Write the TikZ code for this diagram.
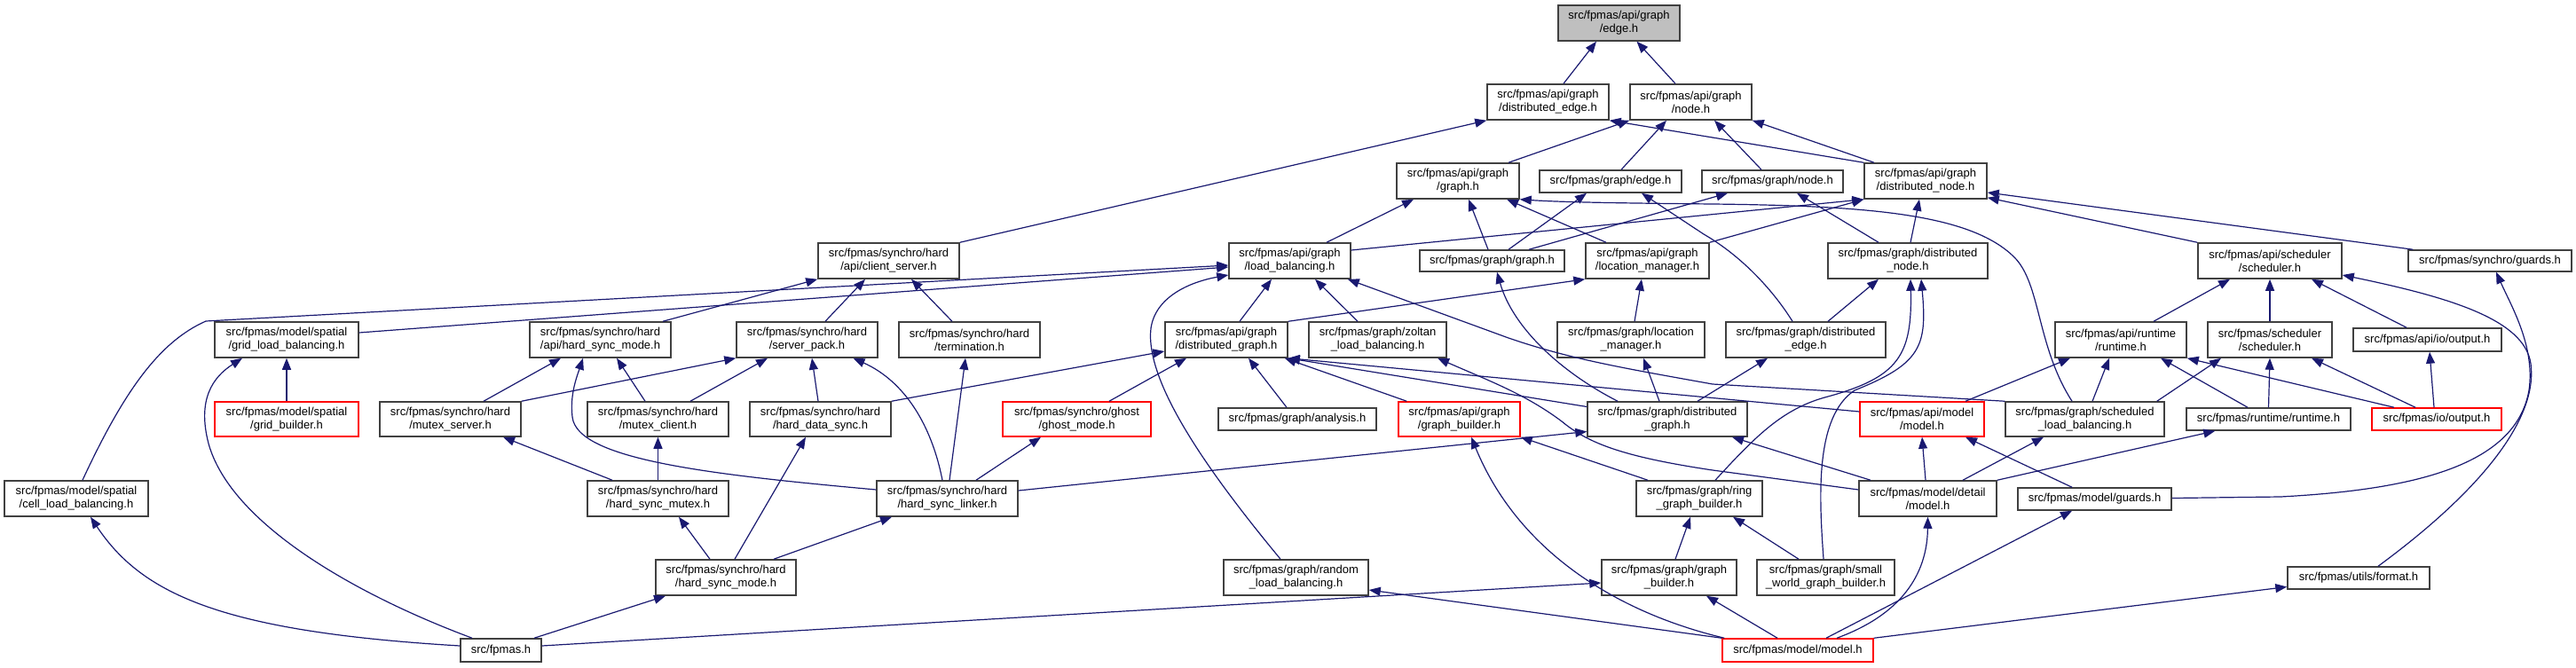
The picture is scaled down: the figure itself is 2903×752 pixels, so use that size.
\documentclass[tikz,border=0pt]{standalone}
\usepackage{fontspec}
\setmainfont{Liberation Sans}
\usetikzlibrary{arrows.meta}
\definecolor{edgecol}{HTML}{191970}
\definecolor{boxcol}{HTML}{404040}
\definecolor{redcol}{HTML}{FF0000}
\definecolor{rootfill}{HTML}{BFBFBF}
\tikzset{
  hbox/.style={draw=boxcol, fill=white, line width=1.5pt, inner sep=0pt, align=center,
    font=\fontsize{13}{15}\selectfont},
  redbox/.style={hbox, draw=redcol},
  rootbox/.style={hbox, fill=rootfill},
  dep/.style={draw=edgecol, line width=1.2pt, -{Triangle[length=13pt,width=10pt]}},
}
\begin{document}
\begin{tikzpicture}[x=1pt,y=-1pt]
\useasboundingbox (0,0) rectangle (2903,752);
% row 0
\node[rootbox, minimum width=137pt, minimum height=40pt] (edgeh) at (1824.5,26) {src/fpmas/api/graph\\/edge.h};
% row 1
\node[hbox, minimum width=137pt, minimum height=40pt] (dedge) at (1744.5,115) {src/fpmas/api/graph\\/distributed\_edge.h};
\node[hbox, minimum width=137pt, minimum height=40pt] (anode) at (1905.5,115) {src/fpmas/api/graph\\/node.h};
% row 2
\node[hbox, minimum width=138pt, minimum height=40pt] (agraph) at (1643,204) {src/fpmas/api/graph\\/graph.h};
\node[hbox, minimum width=160pt, minimum height=25pt] (gedge) at (1815,204.5) {src/fpmas/graph/edge.h};
\node[hbox, minimum width=159pt, minimum height=25pt] (gnode) at (1997.5,204.5) {src/fpmas/graph/node.h};
\node[hbox, minimum width=138pt, minimum height=40pt] (adnode) at (2170,204) {src/fpmas/api/graph\\/distributed\_node.h};
% row 3
\node[hbox, minimum width=159pt, minimum height=40pt] (cserver) at (1001.5,294) {src/fpmas/synchro/hard\\/api/client\_server.h};
\node[hbox, minimum width=137pt, minimum height=40pt] (albal) at (1453.5,294) {src/fpmas/api/graph\\/load\_balancing.h};
\node[hbox, minimum width=163pt, minimum height=24pt] (ggraph) at (1681.5,294) {src/fpmas/graph/graph.h};
\node[hbox, minimum width=139pt, minimum height=40pt] (alman) at (1856.5,294) {src/fpmas/api/graph\\/location\_manager.h};
\node[hbox, minimum width=180pt, minimum height=40pt] (gdnode) at (2150,294) {src/fpmas/graph/distributed\\\_node.h};
\node[hbox, minimum width=162pt, minimum height=40pt] (asched) at (2558,294) {src/fpmas/api/scheduler\\/scheduler.h};
\node[hbox, minimum width=184pt, minimum height=24pt] (sguards) at (2806,294) {src/fpmas/synchro/guards.h};
% row 4
\node[hbox, minimum width=162pt, minimum height=40pt] (gridlb) at (323,383) {src/fpmas/model/spatial\\/grid\_load\_balancing.h};
\node[hbox, minimum width=159pt, minimum height=40pt] (ahsmode) at (676.5,383) {src/fpmas/synchro/hard\\/api/hard\_sync\_mode.h};
\node[hbox, minimum width=159pt, minimum height=40pt] (spack) at (909.5,383) {src/fpmas/synchro/hard\\/server\_pack.h};
\node[hbox, minimum width=159pt, minimum height=40pt] (term) at (1092.5,383) {src/fpmas/synchro/hard\\/termination.h};
\node[hbox, minimum width=138pt, minimum height=40pt] (adgraph) at (1382,383) {src/fpmas/api/graph\\/distributed\_graph.h};
\node[hbox, minimum width=155pt, minimum height=40pt] (zoltan) at (1552.5,383) {src/fpmas/graph/zoltan\\\_load\_balancing.h};
\node[hbox, minimum width=166pt, minimum height=40pt] (glman) at (1838,383) {src/fpmas/graph/location\\\_manager.h};
\node[hbox, minimum width=180pt, minimum height=40pt] (gdedge) at (2035,383) {src/fpmas/graph/distributed\\\_edge.h};
\node[hbox, minimum width=148pt, minimum height=40pt] (aruntime) at (2390,383) {src/fpmas/api/runtime\\/runtime.h};
\node[hbox, minimum width=140pt, minimum height=40pt] (ssched) at (2558,383) {src/fpmas/scheduler\\/scheduler.h};
\node[hbox, minimum width=167pt, minimum height=26pt] (aoutput) at (2735.5,383) {src/fpmas/api/io/output.h};
% row 5
\node[redbox, minimum width=162pt, minimum height=39pt] (gridb) at (323,472.5) {src/fpmas/model/spatial\\/grid\_builder.h};
\node[hbox, minimum width=159pt, minimum height=39pt] (mserver) at (507.5,472.5) {src/fpmas/synchro/hard\\/mutex\_server.h};
\node[hbox, minimum width=159pt, minimum height=39pt] (mclient) at (741.5,472.5) {src/fpmas/synchro/hard\\/mutex\_client.h};
\node[hbox, minimum width=159pt, minimum height=39pt] (hdsync) at (924.5,472.5) {src/fpmas/synchro/hard\\/hard\_data\_sync.h};
\node[redbox, minimum width=167pt, minimum height=39pt] (ghost) at (1213.5,472.5) {src/fpmas/synchro/ghost\\/ghost\_mode.h};
\node[hbox, minimum width=178pt, minimum height=25pt] (analysis) at (1462,472.5) {src/fpmas/graph/analysis.h};
\node[redbox, minimum width=137pt, minimum height=39pt] (agbuilder) at (1644.5,472.5) {src/fpmas/api/graph\\/graph\_builder.h};
\node[hbox, minimum width=180pt, minimum height=39pt] (gdgraph) at (1879,472.5) {src/fpmas/graph/distributed\\\_graph.h};
\node[redbox, minimum width=140pt, minimum height=39pt] (amodel) at (2166,472.5) {src/fpmas/api/model\\/model.h};
\node[hbox, minimum width=179pt, minimum height=39pt] (schedlb) at (2349.5,472.5) {src/fpmas/graph/scheduled\\\_load\_balancing.h};
\node[hbox, minimum width=185pt, minimum height=25pt] (runtime) at (2556.5,472.5) {src/fpmas/runtime/runtime.h};
\node[redbox, minimum width=146pt, minimum height=25pt] (output) at (2746,472.5) {src/fpmas/io/output.h};
% row 6
\node[hbox, minimum width=162pt, minimum height=40pt] (celllb) at (86,562) {src/fpmas/model/spatial\\/cell\_load\_balancing.h};
\node[hbox, minimum width=159pt, minimum height=40pt] (hsmutex) at (741.5,562) {src/fpmas/synchro/hard\\/hard\_sync\_mutex.h};
\node[hbox, minimum width=159pt, minimum height=40pt] (hslinker) at (1067.5,562) {src/fpmas/synchro/hard\\/hard\_sync\_linker.h};
\node[hbox, minimum width=142pt, minimum height=40pt] (ringgb) at (1915,562) {src/fpmas/graph/ring\\\_graph\_builder.h};
\node[hbox, minimum width=155pt, minimum height=40pt] (dmodel) at (2172.5,562) {src/fpmas/model/detail\\/model.h};
\node[hbox, minimum width=173pt, minimum height=25pt] (mguards) at (2360.5,562.5) {src/fpmas/model/guards.h};
% row 7
\node[hbox, minimum width=158pt, minimum height=40pt] (hsmode) at (818,651) {src/fpmas/synchro/hard\\/hard\_sync\_mode.h};
\node[hbox, minimum width=163pt, minimum height=40pt] (randlb) at (1460.5,651) {src/fpmas/graph/random\\\_load\_balancing.h};
\node[hbox, minimum width=152pt, minimum height=40pt] (ggbuilder) at (1881,651) {src/fpmas/graph/graph\\\_builder.h};
\node[hbox, minimum width=155pt, minimum height=40pt] (swgb) at (2057.5,651) {src/fpmas/graph/small\\\_world\_graph\_builder.h};
\node[hbox, minimum width=160pt, minimum height=25pt] (format) at (2658,651.5) {src/fpmas/utils/format.h};
% row 8
\node[hbox, minimum width=91pt, minimum height=26pt] (fpmas) at (564.5,733) {src/fpmas.h};
\node[redbox, minimum width=170pt, minimum height=26pt] (mmodel) at (2026,733) {src/fpmas/model/model.h};

% edges
\draw[dep] ([xshift=17.5pt]dedge.north) -- ([xshift=-25.5pt]edgeh.south);
\draw[dep] ([xshift=-17.5pt]anode.north) -- ([xshift=20pt]edgeh.south);
\draw[dep] (cserver.north east) -- (dedge.south west);
\draw[dep] (adnode.north west) -- (dedge.south east);
\draw[dep] ([xshift=57pt]agraph.north) -- (anode.south west);
\draw[dep] ([xshift=12pt]gedge.north) -- ([xshift=-27.5pt]anode.south);
\draw[dep] ([xshift=-12.5pt]gnode.north) -- ([xshift=26.5pt]anode.south);
\draw[dep] ([xshift=-58pt]adnode.north) -- (anode.south east);
\draw[dep] ([xshift=41.5pt]albal.north) -- ([xshift=-50pt]agraph.south);
\draw[dep] ([xshift=-4.5pt]ggraph.north) -- ([xshift=12pt]agraph.south);
\draw[dep] ([xshift=-46.5pt]alman.north) -- ([xshift=55pt]agraph.south);
\draw[dep] ([xshift=-14.5pt]schedlb.north) .. controls (2295,390) and (2300,320) .. (2270,290) .. controls (2220,240) and (2100,232) .. (1930,230) .. controls (1830,229) and (1760,228) .. (agraph.south east);
\draw[dep] ([xshift=18.5pt]ggraph.north) -- ([xshift=-27pt]gedge.south);
\draw[dep] ([xshift=-15pt]gdedge.north) .. controls (2000,330) and (1965,290) .. (1920,264) -- ([xshift=35pt]gedge.south);
\draw[dep] ([xshift=41.5pt]ggraph.north) -- ([xshift=-50.5pt]gnode.south);
\draw[dep] ([xshift=-33pt]gdnode.north) -- ([xshift=27.5pt]gnode.south);
\draw[dep] ([yshift=12pt]albal.east) -- (adnode.south west);
\draw[dep] (alman.north east) -- (adnode.south west);
\draw[dep] ([xshift=3pt]gdnode.north) -- ([xshift=-7pt]adnode.south);
\draw[dep] (asched.north west) -- ([yshift=2pt]adnode.south east);
\draw[dep] ([xshift=6pt]sguards.north west) -- ([yshift=-13pt]adnode.east);
\draw[dep] ([xshift=70.5pt]ahsmode.north) -- (cserver.south west);
\draw[dep] ([xshift=20.5pt]spack.north) -- ([xshift=-26.5pt]cserver.south);
\draw[dep] ([xshift=-19.5pt]term.north) -- ([xshift=25.5pt]cserver.south);
\draw[dep] ([xshift=7pt]celllb.north) .. controls (140,440) and (180,385) .. (232,362) -- ([yshift=-5pt]albal.west);
\draw[dep] ([yshift=8pt]gridlb.east) -- ([yshift=-7pt]albal.west);
\draw[dep] ([xshift=15pt]adgraph.north) -- ([xshift=-20.5pt]albal.south);
\draw[dep] ([xshift=-22.5pt]zoltan.north) -- ([xshift=28.5pt]albal.south);
\draw[dep] (schedlb.north west) -- (1930,433) .. controls (1830,415) and (1770,405) .. (1700,381) -- ([xshift=-4pt]albal.south east);
\draw[dep] ([xshift=-17.5pt]randlb.north) .. controls (1360,530) and (1290,430) .. (1297,370) .. controls (1302,335) and (1340,318) .. ([yshift=-16pt]albal.west);
\draw[dep] ([xshift=4pt]glman.north) -- ([xshift=-6.5pt]alman.south);
\draw[dep] (adgraph.north east) -- (alman.south west);
\draw[dep] ([xshift=-56pt]gdgraph.north) .. controls (1760,420) and (1705,370) .. ([xshift=5.5pt]ggraph.south);
\draw[dep] ([xshift=25pt]gdedge.north) -- ([xshift=-33pt]gdnode.south);
\draw[dep] ([xshift=18pt]ringgb.north) .. controls (1980,490) and (2010,460) .. (2060,447) .. controls (2140,425) and (2155,400) .. ([xshift=3pt]gdnode.south);
\draw[dep] ([xshift=-2.5pt]swgb.north) .. controls (2050,560) and (2045,470) .. (2090,440) .. controls (2165,410) and (2172,390) .. ([xshift=15pt]gdnode.south);
\draw[dep] ([xshift=37pt]aruntime.north) -- ([xshift=-45pt]asched.south);
\draw[dep] (ssched.north) -- (asched.south);
\draw[dep] ([xshift=-23.5pt]aoutput.north) -- ([xshift=47pt]asched.south);
\draw[dep] ([xshift=22pt]format.north) .. controls (2800,550) and (2860,470) .. (2852,410) .. controls (2845,360) and (2760,335) .. ([yshift=-16pt]asched.east);
\draw[dep] ([yshift=1pt]mguards.east) -- (2570,560) .. controls (2720,552) and (2835,525) .. (2850,440) .. controls (2857,390) and (2830,345) .. ([xshift=7pt]sguards.south);
\draw[dep] ([xshift=37.5pt]mserver.north) -- ([xshift=-44.5pt]ahsmode.south);
\draw[dep] ([xshift=-14.5pt]mclient.north) -- ([xshift=18.5pt]ahsmode.south);
\draw[dep] ([yshift=10pt]hslinker.west) .. controls (800,535) and (650,518) .. (645,470) .. controls (642,445) and (650,425) .. ([xshift=-19.5pt]ahsmode.south);
\draw[dep] (mserver.north east) -- (spack.south west);
\draw[dep] ([xshift=36.5pt]mclient.north) -- ([xshift=-44.5pt]spack.south);
\draw[dep] ([xshift=-2.5pt]hdsync.north) -- ([xshift=5.5pt]spack.south);
\draw[dep] ([xshift=-5.5pt]hslinker.north) .. controls (1050,480) and (1020,430) .. ([xshift=52pt]spack.south);
\draw[dep] ([xshift=2.5pt]hslinker.north) -- ([xshift=-4.5pt]term.south);
\draw[dep] (hdsync.north east) -- ([yshift=-13pt]adgraph.west);
\draw[dep] ([xshift=36.5pt]ghost.north) -- ([xshift=-45pt]adgraph.south);
\draw[dep] ([xshift=-12pt]analysis.north) -- ([xshift=25pt]adgraph.south);
\draw[dep] ([xshift=10pt]agbuilder.north west) -- ([xshift=-4pt]adgraph.south east);
\draw[dep] ([yshift=14pt]gdgraph.west) -- (adgraph.south east);
\draw[dep] ([yshift=8.5pt]amodel.west) -- (adgraph.south east);
\draw[dep] ([yshift=10pt]dmodel.west) -- (1930,530) .. controls (1830,515) and (1790,500) .. (1760,475) .. controls (1720,445) and (1680,430) .. ([xshift=67.5pt]zoltan.south);
\draw[dep] ([xshift=-9pt]gdgraph.north) -- ([xshift=14pt]glman.south);
\draw[dep] ([xshift=34pt]gdgraph.north) -- ([xshift=-43pt]gdedge.south);
\draw[dep] ([yshift=9pt]hslinker.east) -- ([yshift=-14pt]gdgraph.west);
\draw[dep] ([xshift=-64.5pt]dmodel.north) -- ([xshift=73pt]gdgraph.south);
\draw[dep] ([xshift=-2.5pt]dmodel.north) -- (amodel.south);
\draw[dep] ([xshift=-25.5pt]mguards.north) -- ([xshift=49pt]amodel.south);
\draw[dep] ([xshift=49pt]amodel.north) -- ([xshift=-57pt]aruntime.south);
\draw[dep] ([xshift=8.5pt]schedlb.north) -- ([xshift=-13pt]aruntime.south);
\draw[dep] ([xshift=-23.5pt]runtime.north) -- ([xshift=45pt]aruntime.south);
\draw[dep] ([xshift=-48pt]output.north) -- (aruntime.south east);
\draw[dep] ([xshift=-9pt]schedlb.north east) -- ([xshift=-55pt]ssched.south);
\draw[dep] (runtime.north) -- (ssched.south);
\draw[dep] ([xshift=-24pt]output.north) -- ([xshift=47pt]ssched.south);
\draw[dep] ([xshift=-3pt]output.north) -- ([xshift=2.5pt]aoutput.south);
\draw[dep] ([xshift=39.5pt]dmodel.north) -- ([xshift=-46.5pt]schedlb.south);
\draw[dep] (dmodel.north east) -- ([xshift=33pt]runtime.south west);
\draw[dep] ([xshift=32.5pt]hslinker.north) -- ([xshift=-40.5pt]ghost.south);
\draw[dep] (gridb.north) -- (gridlb.south);
\draw[dep] ([xshift=-32.5pt]fpmas.north) .. controls (400,670) and (260,590) .. (235,500) .. controls (222,450) and (240,425) .. ([xshift=-50pt]gridlb.south);
\draw[dep] ([yshift=5pt]fpmas.west) .. controls (250,712) and (160,670) .. ([xshift=16pt]celllb.south);
\draw[dep] ([xshift=-51.5pt]hsmutex.north) -- ([xshift=59.5pt]mserver.south);
\draw[dep] (hsmutex.north) -- (mclient.south);
\draw[dep] ([xshift=10pt]hsmode.north) -- ([xshift=-16.5pt]hdsync.south);
\draw[dep] ([xshift=-18pt]hsmode.north) -- ([xshift=23.5pt]hsmutex.south);
\draw[dep] ([xshift=54pt]hsmode.north) -- ([xshift=-62.5pt]hslinker.south);
\draw[dep] ([xshift=37.5pt]fpmas.north) -- ([xshift=-68pt]hsmode.south);
\draw[dep] ([yshift=5pt]fpmas.east) -- ([yshift=-6pt]ggbuilder.west);
\draw[dep] (mmodel.north west) -- ([yshift=-14pt]randlb.east);
\draw[dep] ([xshift=-58pt]ringgb.north) -- (agbuilder.south east);
\draw[dep] ([xshift=3pt]mmodel.north west) .. controls (1820,690) and (1710,620) .. ([xshift=13.5pt]agbuilder.south);
\draw[dep] ([xshift=7pt]ggbuilder.north) -- ([xshift=-10pt]ringgb.south);
\draw[dep] ([xshift=-30.5pt]swgb.north) -- ([xshift=38pt]ringgb.south);
\draw[dep] ([xshift=-23pt]mmodel.north) -- ([xshift=42pt]ggbuilder.south);
\draw[dep] ([xshift=44pt]mmodel.north) .. controls (2150,690) and (2172,640) .. (dmodel.south);
\draw[dep] ([xshift=32pt]mmodel.north) -- ([xshift=-25.5pt]mguards.south);
\draw[dep] (mmodel.north east) -- ([yshift=-10pt]format.west);
\end{tikzpicture}
\end{document}
